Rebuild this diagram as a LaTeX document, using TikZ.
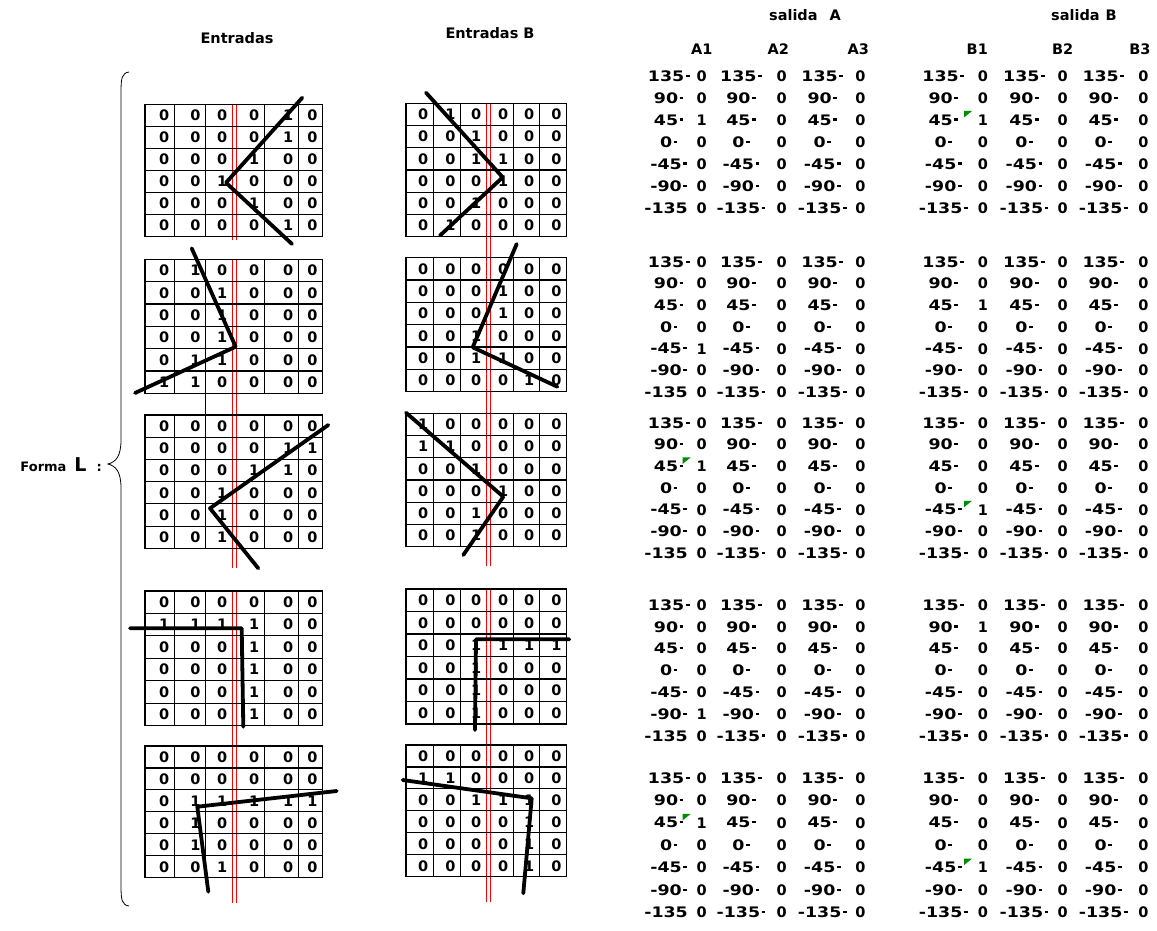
\documentclass[tikz,border=0pt]{standalone}
\usepackage{fontspec}
\setmainfont{DejaVu Sans}
\newfontfamily\gfont{DejaVu Sans}
\newfontfamily\tfont[FakeStretch=1.2]{DejaVu Sans}
\newcommand\dgm{\hspace{1.5pt}\raisebox{4.5pt}{\rule{3.8pt}{2.2pt}}}
\usetikzlibrary{calc}
\tikzset{
  gcell/.style={font=\gfont\bfseries\fontsize{14.5}{15}\selectfont, anchor=east, inner sep=0pt},
  tcell/.style={font=\tfont\bfseries\fontsize{14.5}{15}\selectfont, inner sep=0pt},
  vcell/.style={font=\gfont\bfseries\fontsize{14.5}{15}\selectfont, inner sep=0pt},
  hdr/.style={font=\gfont\bfseries\fontsize{14.5}{15}\selectfont, inner sep=0pt},
  gline/.style={line width=1.1pt, black},
  redl/.style={red, line width=0.9pt},
  stroke/.style={line width=3.8pt, line cap=round, line join=round, black},
  gmark/.style={fill=green!55!black},
}
\newcommand\gridL[4]{%
  \pgfmathsetmacro\mygh{(#3-#2)/6}
  \draw[gline] (145,#2) rectangle (322.7,#3);
  \foreach \k in {1,...,5} \draw[gline] (145,{#2+\k*\mygh}) -- (322.7,{#2+\k*\mygh});
  \foreach \xx in {174.3,205.7,264.3,298.3} \draw[gline] (\xx,#2) -- (\xx,#3);
  \foreach \row [count=\r] in {#4} {
    \foreach \v [count=\c] in \row {
      \pgfmathsetmacro\xr{{174.3,205.7,232.3,264.3,298.3,322.7}[\c-1]-5}
      \node[gcell] (#1-\r-\c) at (\xr,{#2+(\r-0.5)*\mygh}) {\v};
    }
  }
}
\newcommand\gridR[4]{%
  \pgfmathsetmacro\mygh{(#3-#2)/6}
  \draw[gline] (406,#2) rectangle (566.7,#3);
  \foreach \k in {1,...,5} \draw[gline] (406,{#2+\k*\mygh}) -- (566.7,{#2+\k*\mygh});
  \foreach \xx in {433.3,460.7,513.3,539.3} \draw[gline] (\xx,#2) -- (\xx,#3);
  \foreach \row [count=\r] in {#4} {
    \foreach \v [count=\c] in \row {
      \pgfmathsetmacro\xr{{433.3,460.7,486.3,513.3,539.3,566.7}[\c-1]-5}
      \node[gcell] (#1-\r-\c) at (\xr,{#2+(\r-0.5)*\mygh}) {\v};
    }
  }
}
% #1 id, #2 y0, #3 dy, #4 A1 row with 1, #5 B1 row with 1
\newcommand\tblock[5]{%
  \foreach \ang [count=\i] in {135,90,45,0,-45,-90,-135} {
    \pgfmathsetmacro\yy{#2+(\i-1)*#3}
    \foreach \lx/\vx [count=\j] in {668.7/701.7,741/781.7,822.3/860.5,943.3/983,1024/1062.7,1103.3/1143.5} {
      \pgfmathtruncatemacro\one{((\j==1)&&(\i==#4))||((\j==4)&&(\i==#5)) ? 1 : 0}
      \node[tcell] (t#1-\i-\j a) at (\lx,\yy) {\ang\ifnum\numexpr\j*10+\i\relax=17 \phantom{\dgm}\else\dgm\fi};
      \node[vcell] (t#1-\i-\j v) at (\vx,\yy) {\one};
    }
  }
}
\newcommand\gm[1]{\fill[gmark] ([shift={(-19,-9)}]#1.center) -- ++(8,0) -- ++(-8,6.5) -- cycle;}
\begin{document}
\begin{tikzpicture}[x=1pt,y=-1pt]
\useasboundingbox (0,0) rectangle (1157,931);
\fill[white] (0,0) rectangle (1157,931);

% headers
\node[hdr] (hE) at (237,38) {Entradas};
\node[hdr] (hEB) at (490,33) {Entradas B};
\node[hdr] (hSA) at (805,15) {salida\hspace{12pt}A};
\node[hdr] (hSB) at (1084,15) {salida\hspace{6pt}B};
\foreach \t/\x in {A1/701.7,A2/778.3,A3/858.3,B1/977.3,B2/1062.7,B3/1140}
  \node[hdr] (h\t) at (\x,49.3) {\t};

% brace and label
\draw[line width=0.8pt] (129,72) .. controls (122,73) and (121,78) .. (121,92) -- (121,440)
  .. controls (121,456) and (116,462) .. (108,464)
  .. controls (116,466) and (121,472) .. (121,488) -- (121,886)
  .. controls (121,900) and (122,905) .. (129,906);
\node[anchor=east, inner sep=0pt] (forma) at (102,465)
  {\gfont\bfseries\fontsize{13}{14}\selectfont Forma\hspace{8pt}{\gfont\fontsize{19}{19}\selectfont L}\hspace{10pt}:};

% red double lines
\foreach \a/\b in {104/240,260/568,591/903} {
  \draw[redl] (232.3,\a) -- (232.3,\b);
  \draw[redl] (236.3,\a) -- (236.3,\b);
}
\foreach \a/\b in {103/566,589/902} {
  \draw[redl] (486.3,\a) -- (486.3,\b);
  \draw[redl] (490.7,\a) -- (490.7,\b);
}

% grids
\gridL{L1}{104.3}{236.7}{{0,0,0,0,1,0},{0,0,0,0,1,0},{0,0,0,1,0,0},{0,0,1,0,0,0},{0,0,0,1,0,0},{0,0,0,0,1,0}}
\gridR{R1}{103.3}{236.7}{{0,1,0,0,0,0},{0,0,1,0,0,0},{0,0,1,1,0,0},{0,0,0,1,0,0},{0,0,1,0,0,0},{0,1,0,0,0,0}}
\gridL{L2}{259.3}{393.3}{{0,1,0,0,0,0},{0,0,1,0,0,0},{0,0,1,0,0,0},{0,0,1,0,0,0},{0,1,1,0,0,0},{1,1,0,0,0,0}}
\gridR{R2}{257.7}{391.7}{{0,0,0,0,0,0},{0,0,0,1,0,0},{0,0,0,1,0,0},{0,0,1,0,0,0},{0,0,1,1,0,0},{0,0,0,0,1,0}}
\gridL{L3}{415}{548.3}{{0,0,0,0,0,0},{0,0,0,0,1,1},{0,0,0,1,1,0},{0,0,1,0,0,0},{0,0,1,0,0,0},{0,0,1,0,0,0}}
\gridR{R3}{413.3}{546.7}{{1,0,0,0,0,0},{1,1,0,0,0,0},{0,0,1,0,0,0},{0,0,0,1,0,0},{0,0,1,0,0,0},{0,0,1,0,0,0}}
\gridL{L4}{591}{725.7}{{0,0,0,0,0,0},{1,1,1,1,0,0},{0,0,0,1,0,0},{0,0,0,1,0,0},{0,0,0,1,0,0},{0,0,0,1,0,0}}
\gridR{R4}{589}{724}{{0,0,0,0,0,0},{0,0,0,0,0,0},{0,0,1,1,1,1},{0,0,1,0,0,0},{0,0,1,0,0,0},{0,0,1,0,0,0}}
\gridL{L5}{746}{877.7}{{0,0,0,0,0,0},{0,0,0,0,0,0},{0,1,1,1,1,1},{0,1,0,0,0,0},{0,1,0,0,0,0},{0,0,1,0,0,0}}
\gridR{R5}{745}{876.7}{{0,0,0,0,0,0},{1,1,0,0,0,0},{0,0,1,1,1,0},{0,0,0,0,1,0},{0,0,0,0,1,0},{0,0,0,0,1,0}}
\draw[gline] (205.7,393.3) -- (205.7,415);

% strokes
\draw[stroke] (302.3,97.7) -- (226,182.7) -- (292,244);
\draw[stroke] (426,92.7) -- (502.7,177.3) -- (440,235.5);
\draw[stroke] (191.7,248.3) -- (235.7,346.7) -- (135,393);
\draw[stroke] (516.7,244) -- (472.7,347.3) -- (557.3,386.7);
\draw[stroke] (328.3,425) -- (210,508.3) -- (258.3,568.3);
\draw[stroke] (406,412.7) -- (503.3,496.7) -- (463.3,555);
\draw[stroke] (130,628.3) -- (241.7,628.3) -- (243.3,726.7);
\draw[stroke] (475,730) -- (476,639.3) -- (569.3,639.3);
\draw[stroke] (336.7,791) -- (197.3,806.7) -- (208.3,891.7);
\draw[stroke] (402.7,780) -- (531.7,798.3) -- (523.3,893.3);

% tables
\tblock{1}{76}{22}{3}{3}
\tblock{2}{262}{21.7}{5}{3}
\tblock{3}{423}{21.7}{3}{5}
\tblock{4}{605}{21.8}{6}{2}
\tblock{5}{778}{22.4}{3}{5}
\gm{t1-3-4v}
\gm{t3-3-1v}
\gm{t3-5-4v}
\gm{t5-3-1v}
\gm{t5-5-4v}
\end{tikzpicture}
\end{document}
